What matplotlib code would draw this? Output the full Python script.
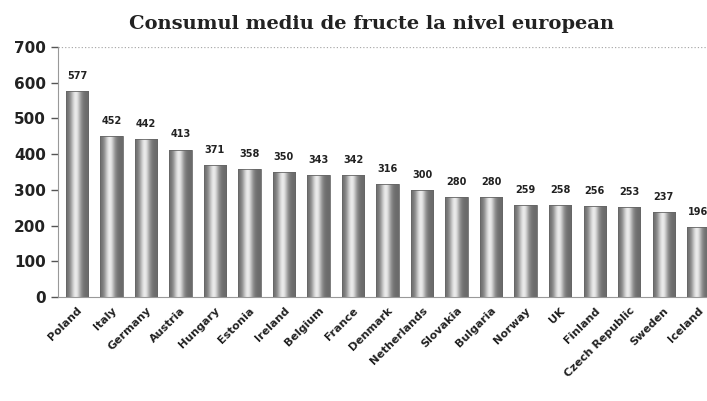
import matplotlib
matplotlib.use("Agg")
import matplotlib.pyplot as plt
import numpy as np

# data
countries = ["Poland", "Italy", "Germany", "Austria", "Hungary", "Estonia",
             "Ireland", "Belgium", "France", "Denmark", "Netherlands",
             "Slovakia", "Bulgaria", "Norway", "UK", "Finland",
             "Czech Republic", "Sweden", "Iceland"]
consum = [577, 452, 442, 413, 371, 358, 350, 343, 342, 316, 300,
          280, 280, 259, 258, 256, 253, 237, 196]
y_ticks = [0, 100, 200, 300, 400, 500, 600, 700]

fig = plt.figure(figsize=(7.07, 4.01), dpi=100)
ax = fig.add_axes([0.082, 0.259, 0.92, 0.624])

x = np.arange(len(countries))
bar_w = 0.64

# cylinder-like shading: dark edges, light band slightly left of centre
grad = np.linspace(-1, 1, 64)
shade = 0.42 + 0.5 * np.exp(-((grad + 0.15) / 0.45) ** 2)
shade = shade[np.newaxis, :]

bars = ax.bar(x, consum, width=bar_w, color="none", edgecolor="#666666", linewidth=0.6, zorder=3)
for b in bars:
    x0, y0 = b.get_x(), b.get_y()
    w, h = b.get_width(), b.get_height()
    im = ax.imshow(shade, cmap="gray", vmin=0, vmax=1, aspect="auto",
                   extent=[x0, x0 + w, y0, y0 + h], zorder=2, interpolation="bilinear")
    im.set_clip_path(b)

for xi, v in zip(x, consum):
    ax.text(xi, v + 28, str(v), ha="center", va="bottom", fontsize=7,
            fontweight="bold", color="#222222")

ax.set_xlim(-0.55, 18.3)
ax.set_ylim(0, 700)
ax.set_yticks(y_ticks)
ax.set_yticklabels([str(t) for t in y_ticks], fontsize=11, fontweight="bold", color="#222222")
ax.set_xticks(x)
ax.set_xticklabels(countries, rotation=45, ha="right", rotation_mode="anchor",
                   fontsize=8, fontweight="bold", color="#222222")
ax.tick_params(axis="x", length=0, pad=6)
ax.tick_params(axis="y", length=5, width=1, color="#555555", direction="out")

# only the top line at 700 is drawn in the original
ax.axhline(700, color="#aaaaaa", linestyle=":", linewidth=0.9, zorder=1)
for s in ["top", "right"]:
    ax.spines[s].set_visible(False)
ax.spines["left"].set_color("#999999")
ax.spines["bottom"].set_color("#999999")

fig.text(0.525, 0.94, "Consumul mediu de fructe la nivel european", ha="center", va="center",
         fontsize=14, fontweight="bold", family="DejaVu Serif", color="#222222")

fig.savefig("out.png", dpi=100)
